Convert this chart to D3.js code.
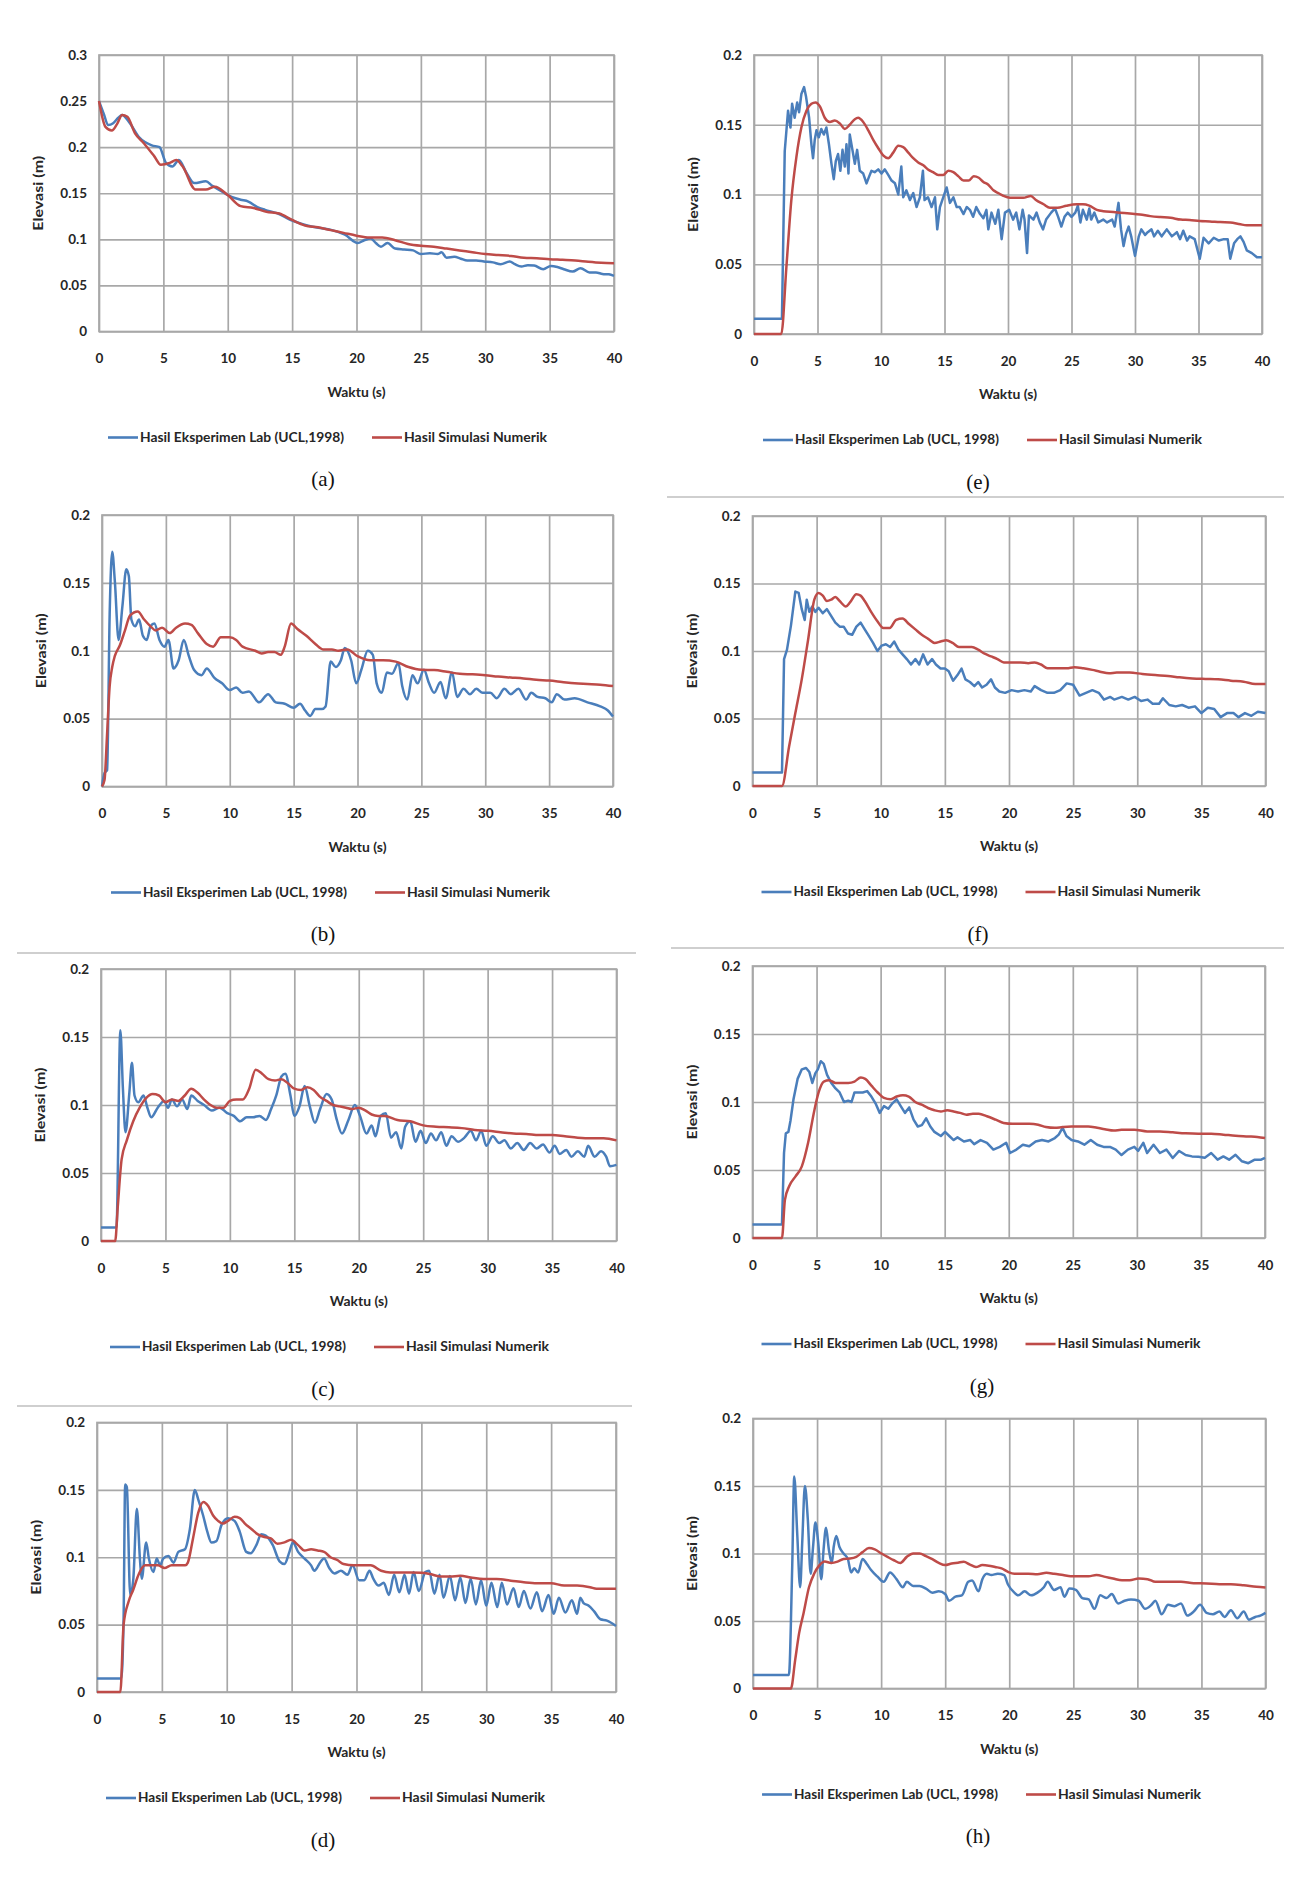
<!DOCTYPE html>
<html><head><meta charset="utf-8">
<script src="https://cdn.jsdelivr.net/npm/d3@7"></script>
<style>body{margin:0;background:#fff}svg{display:block}</style>
</head><body>
<svg id="fig" width="1311" height="1888"></svg>
<script>
// ---------- data ----------
const xTicks=[0,5,10,15,20,25,30,35,40];
const yTicksA=[0,0.05,0.1,0.15,0.2,0.25,0.3];
const yTicks=[0,0.05,0.1,0.15,0.2];
const expName="Hasil Eksperimen Lab (UCL, 1998)";
const expNameA="Hasil Eksperimen Lab (UCL,1998)";
const simName="Hasil Simulasi Numerik";
const xTitle="Waktu (s)";
const yTitle="Elevasi (m)";
const panelLabels=["(a)","(b)","(c)","(d)","(e)","(f)","(g)","(h)"];

const expA=[[0,0.25],[0.4,0.235],[0.7,0.224],[1.1,0.226],[1.5,0.232],[1.8,0.235],[2.3,0.228],[3.1,0.211],[4.1,0.202],[4.7,0.2],[5.2,0.183],[5.7,0.179],[6.2,0.186],[6.8,0.172],[7.4,0.161],[8.3,0.163],[8.8,0.158],[9.3,0.154],[10.3,0.146],[11.0,0.143],[11.6,0.141],[12.3,0.135],[12.9,0.132],[13.9,0.128],[14.9,0.121],[15.7,0.117],[16.5,0.114],[17.3,0.112],[18.1,0.11],[19.1,0.105],[20.1,0.096],[20.6,0.099],[21.1,0.101],[21.5,0.096],[21.9,0.092],[22.4,0.096],[23,0.09],[23.7,0.089],[24.4,0.088],[25,0.084],[25.7,0.085],[26.3,0.084],[26.6,0.086],[27,0.08],[27.6,0.081],[28.1,0.079],[28.6,0.077],[29.3,0.077],[29.9,0.076],[30.6,0.075],[31.2,0.073],[31.9,0.076],[32.3,0.073],[32.8,0.0705],[33.3,0.072],[33.8,0.0716],[34.5,0.0676],[35.1,0.0712],[35.6,0.07],[36.1,0.0676],[36.8,0.065],[37.4,0.0687],[38.1,0.064],[38.6,0.064],[39.1,0.0625],[39.6,0.062],[40,0.0604]];
const simA=[[0,0.25],[0.5,0.222],[1,0.218],[1.4,0.225],[1.8,0.235],[2.2,0.233],[2.8,0.215],[3.5,0.204],[4.3,0.19],[4.8,0.181],[5.5,0.183],[6,0.186],[6.5,0.179],[7.5,0.154],[8.3,0.154],[9,0.157],[10,0.148],[11,0.136],[12,0.134],[13,0.13],[14,0.128],[15,0.121],[16,0.115],[17,0.113],[18,0.11],[19,0.107],[20,0.104],[21,0.102],[22,0.102],[23,0.099],[24,0.095],[25,0.093],[26,0.092],[27,0.09],[28,0.088],[29,0.086],[30,0.084],[31,0.083],[32,0.082],[33,0.08],[34,0.0795],[35,0.0785],[36,0.0778],[37,0.077],[38,0.0756],[39,0.0745],[40,0.074]];

const expB=[[0,0],[0.2,0.01],[0.4,0.012],[0.6,0.127],[0.8,0.173],[1.0,0.152],[1.3,0.108],[1.6,0.133],[1.9,0.16],[2.1,0.155],[2.3,0.123],[2.6,0.118],[2.9,0.123],[3.2,0.111],[3.5,0.108],[3.8,0.118],[4.1,0.12],[4.5,0.108],[4.9,0.103],[5.2,0.108],[5.6,0.087],[6,0.093],[6.4,0.108],[6.8,0.096],[7.2,0.086],[7.8,0.082],[8.2,0.087],[8.8,0.08],[9.4,0.076],[10,0.071],[10.5,0.073],[11,0.069],[11.5,0.07],[12.3,0.062],[13,0.068],[13.6,0.062],[14.3,0.061],[15,0.058],[15.5,0.061],[15.9,0.056],[16.3,0.052],[16.7,0.057],[17.2,0.057],[17.5,0.059],[17.9,0.092],[18.3,0.088],[18.7,0.093],[19.0,0.102],[19.5,0.093],[19.9,0.076],[20.3,0.086],[20.8,0.1],[21.2,0.097],[21.5,0.076],[21.9,0.069],[22.3,0.084],[22.7,0.083],[23.2,0.091],[23.5,0.074],[23.9,0.064],[24.3,0.082],[24.7,0.076],[25.2,0.086],[25.6,0.076],[26,0.069],[26.5,0.077],[26.9,0.065],[27.4,0.084],[27.8,0.066],[28.3,0.072],[28.8,0.068],[29.3,0.072],[29.8,0.069],[30.4,0.069],[30.9,0.065],[31.5,0.072],[32,0.068],[32.6,0.072],[33.2,0.064],[33.6,0.069],[34.1,0.066],[34.7,0.065],[35.2,0.062],[35.6,0.068],[36.2,0.064],[37,0.065],[38,0.062],[39,0.059],[39.6,0.056],[40,0.0515]];
const simB=[[0,0],[0.2,0.005],[0.4,0.039],[0.6,0.074],[0.8,0.088],[1,0.096],[1.4,0.104],[1.8,0.115],[2.2,0.126],[2.8,0.129],[3.3,0.123],[3.8,0.118],[4.2,0.115],[4.7,0.117],[5.3,0.113],[5.8,0.117],[6.5,0.12],[7,0.119],[7.5,0.113],[8.2,0.105],[8.7,0.103],[9.3,0.11],[10,0.11],[10.5,0.108],[11,0.103],[12,0.1],[12.5,0.098],[13,0.099],[13.5,0.099],[14,0.097],[14.3,0.103],[14.8,0.12],[15.3,0.116],[16,0.111],[16.7,0.105],[17.3,0.101],[18,0.101],[18.5,0.1],[19.2,0.101],[20,0.096],[21,0.093],[22,0.093],[23,0.092],[24,0.088],[25,0.086],[26,0.0858],[27,0.0845],[28,0.083],[29,0.0826],[30,0.082],[31,0.081],[32,0.0803],[33,0.0796],[34,0.0786],[35,0.078],[36,0.077],[37,0.076],[38,0.0755],[39,0.075],[40,0.074]];

const expC=[[0,0.01],[1.2,0.01],[1.5,0.155],[1.7,0.112],[1.9,0.08],[2.2,0.109],[2.4,0.131],[2.6,0.107],[2.9,0.102],[3.3,0.107],[3.6,0.098],[3.9,0.091],[4.4,0.098],[4.9,0.103],[5.2,0.098],[5.5,0.104],[5.9,0.099],[6.3,0.104],[6.7,0.097],[7.0,0.107],[7.5,0.103],[8,0.1],[8.6,0.096],[9.2,0.098],[9.8,0.094],[10.3,0.092],[10.8,0.088],[11.3,0.091],[11.8,0.091],[12.3,0.092],[12.8,0.089],[13.2,0.097],[13.6,0.107],[14.0,0.121],[14.3,0.123],[14.7,0.107],[15.0,0.092],[15.4,0.099],[15.8,0.114],[16.2,0.099],[16.6,0.087],[17,0.097],[17.5,0.108],[17.9,0.104],[18.3,0.089],[18.7,0.079],[19.2,0.089],[19.7,0.1],[20.1,0.092],[20.6,0.079],[21,0.085],[21.3,0.077],[21.7,0.092],[22.1,0.094],[22.5,0.076],[22.9,0.08],[23.3,0.068],[23.6,0.084],[24,0.088],[24.4,0.073],[24.8,0.081],[25.2,0.072],[25.6,0.079],[26,0.074],[26.4,0.08],[26.8,0.07],[27.2,0.077],[27.7,0.073],[28.2,0.076],[28.7,0.081],[29.1,0.074],[29.5,0.081],[29.9,0.07],[30.4,0.077],[30.9,0.072],[31.3,0.074],[31.8,0.068],[32.3,0.072],[32.8,0.067],[33.3,0.072],[33.8,0.068],[34.3,0.071],[34.8,0.065],[35.2,0.07],[35.6,0.064],[36.1,0.067],[36.5,0.062],[37,0.066],[37.5,0.062],[37.8,0.07],[38.3,0.062],[38.8,0.066],[39.2,0.062],[39.5,0.055],[40,0.056]];
const simC=[[0,0],[1.1,0],[1.3,0.025],[1.6,0.06],[2,0.074],[2.5,0.088],[3,0.098],[3.5,0.105],[4,0.108],[4.5,0.107],[5,0.102],[5.5,0.104],[6,0.103],[6.5,0.107],[7,0.112],[7.5,0.109],[8,0.104],[8.5,0.1],[9,0.098],[9.5,0.098],[10,0.103],[10.5,0.104],[11,0.104],[11.5,0.112],[12,0.126],[12.5,0.123],[13,0.119],[13.5,0.118],[14,0.119],[14.5,0.116],[15,0.112],[15.5,0.111],[16,0.113],[16.5,0.111],[17,0.106],[17.5,0.103],[18,0.1],[18.5,0.099],[19,0.098],[19.5,0.097],[20,0.098],[20.5,0.096],[21,0.093],[21.5,0.092],[22,0.092],[23,0.089],[24,0.088],[25,0.085],[26,0.084],[27,0.0836],[28,0.083],[29,0.0816],[30,0.081],[31,0.08],[32,0.079],[33,0.0787],[34,0.078],[35,0.078],[36,0.077],[37,0.076],[38,0.0755],[39,0.0755],[40,0.074]];

const expD=[[0,0.01],[1.87,0.01],[2.05,0.055],[2.17,0.154],[2.3,0.152],[2.56,0.072],[2.8,0.084],[3.07,0.136],[3.32,0.097],[3.45,0.084],[3.79,0.111],[4.0,0.099],[4.35,0.089],[4.6,0.099],[4.86,0.094],[5.1,0.099],[5.5,0.101],[5.9,0.096],[6.27,0.104],[6.78,0.106],[7.16,0.121],[7.54,0.15],[7.8,0.143],[8.18,0.131],[8.5,0.119],[8.82,0.111],[9.2,0.112],[9.6,0.124],[10.1,0.129],[10.6,0.127],[11.0,0.119],[11.5,0.104],[11.84,0.103],[12.28,0.109],[12.66,0.117],[13.0,0.116],[13.55,0.109],[14.07,0.097],[14.45,0.095],[14.83,0.104],[15.1,0.111],[15.5,0.104],[16.0,0.099],[16.5,0.094],[16.75,0.09],[17.26,0.097],[17.5,0.099],[17.9,0.092],[18.3,0.088],[18.8,0.09],[19.3,0.087],[19.7,0.094],[20.2,0.083],[20.6,0.083],[21,0.09],[21.3,0.084],[21.7,0.079],[22.1,0.081],[22.5,0.072],[22.9,0.087],[23.3,0.074],[23.7,0.087],[24.05,0.073],[24.4,0.089],[24.8,0.075],[25.3,0.089],[25.6,0.09],[26,0.073],[26.4,0.087],[26.7,0.07],[27.2,0.086],[27.6,0.068],[28.0,0.085],[28.4,0.066],[28.8,0.084],[29.2,0.065],[29.6,0.083],[30,0.064],[30.4,0.081],[30.85,0.063],[31.2,0.081],[31.6,0.065],[32.1,0.077],[32.5,0.063],[32.9,0.075],[33.4,0.062],[33.9,0.074],[34.3,0.06],[34.8,0.072],[35.2,0.058],[35.6,0.07],[36.1,0.059],[36.6,0.068],[37,0.058],[37.25,0.07],[37.5,0.066],[37.9,0.064],[38.3,0.06],[38.8,0.054],[39.3,0.053],[40,0.049]];
const simD=[[0,0],[1.8,0],[2.05,0.05],[2.43,0.067],[2.8,0.076],[3.2,0.087],[3.7,0.094],[4.2,0.094],[4.7,0.094],[5.2,0.092],[5.75,0.094],[6.3,0.094],[6.8,0.094],[7.0,0.096],[7.4,0.114],[7.8,0.133],[8.2,0.141],[8.57,0.138],[8.95,0.131],[9.33,0.127],[9.7,0.125],[10.1,0.127],[10.6,0.13],[11,0.129],[11.4,0.125],[11.9,0.121],[12.4,0.117],[12.9,0.115],[13.4,0.114],[13.9,0.11],[14.45,0.111],[14.96,0.113],[15.5,0.109],[16,0.105],[16.5,0.106],[17,0.105],[17.5,0.104],[18,0.1],[18.5,0.098],[19,0.095],[19.8,0.094],[20.4,0.094],[21.1,0.094],[21.9,0.09],[22.6,0.0887],[23.4,0.0887],[24.2,0.0887],[25,0.0885],[25.7,0.0875],[26.5,0.0857],[27.2,0.0857],[28,0.0862],[28.8,0.085],[29.8,0.0838],[30.8,0.0838],[31.9,0.0826],[32.9,0.0814],[33.9,0.0807],[35,0.0807],[36,0.079],[37,0.079],[38,0.0778],[38.5,0.0766],[39.3,0.0766],[40,0.0766]];

const expE=[[0,0.011],[2.2,0.011],[2.42,0.131],[2.68,0.16],[2.87,0.148],[3.0,0.165],[3.2,0.155],[3.4,0.166],[3.55,0.159],[3.73,0.172],[3.94,0.177],[4.1,0.17],[4.34,0.155],[4.52,0.136],[4.65,0.126],[4.78,0.139],[4.92,0.146],[5.1,0.141],[5.3,0.147],[5.5,0.143],[5.7,0.148],[5.9,0.136],[6.1,0.122],[6.28,0.111],[6.44,0.124],[6.62,0.129],[6.8,0.117],[6.97,0.132],[7.15,0.12],[7.28,0.136],[7.44,0.115],[7.54,0.143],[7.75,0.132],[7.94,0.122],[8.12,0.132],[8.33,0.117],[8.6,0.115],[8.86,0.108],[9.07,0.113],[9.25,0.117],[9.5,0.116],[9.78,0.118],[10.04,0.115],[10.3,0.118],[10.57,0.114],[10.83,0.11],[11.1,0.108],[11.36,0.1],[11.6,0.12],[11.75,0.098],[12.0,0.103],[12.28,0.096],[12.54,0.101],[12.8,0.091],[13.06,0.098],[13.3,0.117],[13.43,0.096],[13.7,0.098],[13.98,0.091],[14.25,0.098],[14.43,0.075],[14.64,0.091],[14.9,0.098],[15.17,0.105],[15.43,0.094],[15.7,0.098],[15.96,0.091],[16.2,0.091],[16.5,0.086],[16.75,0.091],[17,0.089],[17.25,0.084],[17.5,0.091],[17.8,0.086],[18.06,0.083],[18.3,0.089],[18.45,0.075],[18.7,0.087],[19,0.079],[19.24,0.089],[19.5,0.068],[19.76,0.087],[20.1,0.089],[20.4,0.082],[20.65,0.087],[20.9,0.075],[21.15,0.089],[21.3,0.082],[21.5,0.058],[21.65,0.085],[22,0.082],[22.25,0.087],[22.5,0.08],[22.76,0.075],[23.0,0.082],[23.4,0.087],[23.7,0.09],[23.95,0.084],[24.2,0.077],[24.45,0.084],[24.7,0.087],[25,0.084],[25.3,0.087],[25.5,0.092],[25.7,0.08],[25.9,0.089],[26.2,0.082],[26.4,0.09],[26.55,0.082],[26.8,0.087],[27.1,0.08],[27.5,0.082],[27.8,0.08],[28.2,0.082],[28.4,0.077],[28.7,0.094],[28.9,0.075],[29.1,0.063],[29.3,0.072],[29.5,0.077],[29.7,0.07],[30,0.056],[30.3,0.07],[30.5,0.075],[30.8,0.071],[31,0.073],[31.3,0.075],[31.5,0.07],[31.8,0.074],[32.1,0.07],[32.5,0.075],[32.9,0.07],[33.3,0.073],[33.55,0.068],[33.8,0.074],[34.1,0.067],[34.3,0.07],[34.7,0.068],[35.1,0.054],[35.4,0.069],[35.8,0.065],[36.2,0.069],[36.6,0.067],[37.0,0.068],[37.3,0.068],[37.5,0.054],[37.8,0.065],[38.05,0.068],[38.3,0.07],[38.55,0.066],[38.8,0.06],[39.2,0.058],[39.6,0.055],[40,0.055]];
const simE=[[0,0],[2.15,0],[2.55,0.048],[2.94,0.096],[3.34,0.127],[3.73,0.148],[4.13,0.16],[4.52,0.165],[4.84,0.166],[5.2,0.163],[5.57,0.155],[5.97,0.152],[6.36,0.153],[6.75,0.151],[7.15,0.147],[7.54,0.15],[7.94,0.154],[8.2,0.155],[8.6,0.152],[9,0.146],[9.4,0.139],[9.8,0.133],[10.17,0.128],[10.57,0.126],[10.96,0.13],[11.36,0.135],[11.75,0.134],[12.15,0.13],[12.54,0.126],[12.93,0.123],[13.33,0.121],[13.7,0.118],[14.1,0.116],[14.5,0.114],[14.9,0.114],[15.3,0.117],[15.7,0.116],[16.1,0.113],[16.5,0.11],[16.9,0.11],[17.3,0.113],[17.7,0.112],[18.06,0.109],[18.45,0.107],[18.85,0.103],[19.24,0.101],[19.64,0.099],[20.16,0.0976],[21.2,0.0976],[21.8,0.099],[22.2,0.096],[22.8,0.093],[23.3,0.0905],[23.9,0.0905],[24.6,0.092],[25.4,0.093],[25.9,0.093],[26.4,0.092],[27,0.089],[27.5,0.088],[28.3,0.0874],[28.8,0.087],[29.6,0.0864],[30.4,0.0857],[31.2,0.0845],[32,0.0838],[32.8,0.0833],[33.6,0.082],[34.3,0.0817],[35.1,0.081],[35.9,0.0807],[36.7,0.0802],[37.5,0.08],[38.3,0.0786],[38.8,0.078],[39.6,0.078],[40,0.078]];

const expF=[[0,0.01],[2.3,0.01],[2.46,0.094],[2.69,0.101],[3.0,0.119],[3.34,0.144],[3.6,0.143],[3.84,0.131],[4.07,0.123],[4.23,0.138],[4.43,0.129],[4.66,0.133],[4.9,0.129],[5.15,0.132],[5.48,0.128],[5.8,0.131],[6.13,0.126],[6.46,0.121],[6.8,0.118],[7.11,0.118],[7.44,0.113],[7.77,0.112],[8.1,0.118],[8.43,0.121],[8.75,0.116],[9.08,0.111],[9.4,0.106],[9.74,0.1],[10.07,0.104],[10.4,0.105],[10.73,0.103],[11.05,0.107],[11.38,0.101],[11.7,0.0975],[12.03,0.094],[12.36,0.09],[12.7,0.094],[13.0,0.09],[13.3,0.0975],[13.65,0.09],[14,0.094],[14.3,0.09],[14.66,0.087],[15.0,0.087],[15.3,0.085],[15.64,0.078],[15.97,0.082],[16.3,0.087],[16.6,0.079],[16.95,0.077],[17.3,0.074],[17.6,0.077],[17.9,0.073],[18.25,0.075],[18.6,0.079],[18.9,0.073],[19.25,0.07],[19.7,0.069],[20.2,0.071],[20.7,0.07],[21.2,0.071],[21.7,0.07],[22,0.074],[22.5,0.071],[23,0.069],[23.5,0.069],[24,0.071],[24.5,0.076],[25,0.075],[25.5,0.067],[26,0.069],[26.5,0.071],[27,0.069],[27.4,0.064],[27.9,0.066],[28.2,0.064],[28.8,0.066],[29.3,0.064],[29.8,0.066],[30.3,0.063],[30.8,0.064],[31.2,0.061],[31.7,0.061],[32,0.065],[32.5,0.06],[33,0.059],[33.5,0.06],[34,0.058],[34.5,0.059],[35,0.054],[35.5,0.058],[36,0.057],[36.5,0.051],[37,0.054],[37.5,0.054],[37.9,0.051],[38.4,0.054],[38.9,0.052],[39.4,0.055],[40,0.054]];
const simF=[[0,0],[2.3,0],[2.85,0.029],[3.34,0.054],[3.84,0.079],[4.33,0.108],[4.82,0.138],[5.15,0.143],[5.48,0.141],[5.8,0.137],[6.13,0.138],[6.46,0.14],[6.8,0.137],[7.28,0.133],[7.6,0.136],[8.1,0.142],[8.43,0.141],[8.75,0.137],[9.25,0.129],[9.74,0.122],[10.2,0.117],[10.7,0.117],[11.2,0.123],[11.7,0.124],[12.2,0.12],[12.7,0.116],[13.2,0.112],[13.7,0.109],[14.2,0.106],[14.66,0.107],[15.1,0.108],[15.6,0.106],[16.1,0.103],[16.6,0.103],[17.1,0.103],[17.6,0.101],[18.1,0.098],[18.6,0.096],[19.1,0.094],[19.6,0.0915],[20.3,0.0915],[20.9,0.0915],[21.5,0.091],[22,0.0915],[22.5,0.09],[23,0.0872],[23.5,0.0872],[24.5,0.0872],[25.1,0.088],[25.8,0.0872],[26.5,0.086],[27.1,0.0847],[27.8,0.0835],[28.4,0.084],[29.4,0.084],[30.4,0.083],[31.4,0.0822],[32.4,0.0815],[33.3,0.0805],[34.3,0.0797],[35.3,0.0793],[36.3,0.079],[37.3,0.078],[38.3,0.0773],[39.2,0.0756],[40,0.0756]];

const expG=[[0,0.01],[2.3,0.01],[2.46,0.0625],[2.6,0.077],[2.8,0.078],[2.96,0.086],[3.2,0.102],[3.52,0.117],[3.85,0.124],[4.18,0.125],[4.44,0.122],[4.67,0.114],[4.9,0.121],[5.1,0.124],[5.33,0.13],[5.56,0.128],[5.82,0.12],[6.15,0.114],[6.48,0.11],[6.8,0.107],[7.14,0.1],[7.47,0.101],[7.73,0.1],[7.96,0.107],[8.3,0.107],[8.6,0.107],[8.95,0.108],[9.28,0.104],[9.6,0.099],[9.93,0.092],[10.26,0.097],[10.6,0.095],[10.92,0.099],[11.25,0.102],[11.57,0.097],[11.9,0.092],[12.23,0.096],[12.57,0.087],[12.9,0.082],[13.22,0.083],[13.55,0.088],[13.88,0.082],[14.2,0.078],[14.7,0.075],[15.03,0.078],[15.36,0.075],[15.7,0.072],[16.0,0.074],[16.5,0.071],[17.0,0.072],[17.3,0.069],[17.8,0.072],[18.3,0.07],[18.8,0.065],[19.3,0.067],[19.8,0.07],[20.1,0.0625],[20.6,0.065],[21.1,0.0686],[21.6,0.0674],[22.1,0.071],[22.6,0.072],[23.1,0.071],[23.6,0.0735],[23.9,0.076],[24.2,0.081],[24.5,0.075],[24.9,0.072],[25.4,0.071],[25.9,0.0686],[26.4,0.072],[26.9,0.0686],[27.4,0.067],[27.9,0.067],[28.35,0.065],[28.8,0.061],[29.3,0.065],[29.8,0.067],[30.1,0.064],[30.5,0.07],[30.8,0.0625],[31.3,0.0686],[31.8,0.0625],[32.3,0.065],[32.8,0.0588],[33.3,0.064],[33.8,0.061],[34.3,0.06],[34.8,0.0598],[35.3,0.059],[35.8,0.0625],[36.3,0.0576],[36.75,0.06],[37.2,0.0576],[37.7,0.0612],[38.2,0.0564],[38.7,0.055],[39.2,0.0576],[39.7,0.0576],[40,0.059]];
const simG=[[0,0],[2.3,0],[2.53,0.028],[2.86,0.038],[3.36,0.0453],[3.85,0.0527],[4.34,0.07],[4.83,0.094],[5.16,0.107],[5.56,0.115],[6,0.116],[6.48,0.114],[6.98,0.114],[7.47,0.114],[7.96,0.115],[8.45,0.118],[8.8,0.117],[9.28,0.112],[9.77,0.107],[10.26,0.103],[10.76,0.102],[11.25,0.104],[11.74,0.105],[12.2,0.104],[12.7,0.1],[13.2,0.098],[13.7,0.0956],[14.2,0.0939],[14.7,0.093],[15.2,0.0939],[15.7,0.093],[16.2,0.092],[16.7,0.0907],[17.2,0.0914],[17.66,0.0914],[18.3,0.0895],[18.98,0.087],[19.6,0.0846],[20.3,0.084],[21,0.084],[21.6,0.084],[22.3,0.0833],[22.9,0.0816],[23.6,0.081],[24.2,0.0816],[24.9,0.082],[25.5,0.082],[26.2,0.082],[26.9,0.081],[27.5,0.08],[28.2,0.079],[28.8,0.0796],[29.8,0.0796],[30.8,0.0784],[31.8,0.0784],[32.8,0.0777],[33.8,0.077],[34.8,0.0767],[35.8,0.0767],[36.75,0.076],[37.7,0.0752],[38.7,0.0747],[39.4,0.0743],[40,0.0735]];

const expH=[[0,0.01],[2.8,0.01],[3.06,0.09],[3.22,0.157],[3.45,0.115],[3.68,0.075],[3.85,0.11],[4.05,0.15],[4.28,0.125],[4.5,0.085],[4.68,0.104],[4.87,0.123],[5.1,0.107],[5.33,0.081],[5.5,0.102],[5.7,0.119],[5.92,0.103],[6.15,0.093],[6.3,0.105],[6.5,0.113],[6.74,0.105],[7.07,0.1],[7.4,0.096],[7.66,0.086],[7.9,0.089],[8.2,0.086],[8.55,0.096],[8.9,0.092],[9.2,0.088],[9.7,0.083],[10.2,0.079],[10.7,0.086],[11.2,0.081],[11.7,0.075],[12.0,0.079],[12.5,0.076],[13.0,0.076],[13.5,0.074],[14,0.071],[14.5,0.072],[15,0.07],[15.3,0.065],[15.8,0.068],[16.3,0.069],[16.8,0.079],[17.1,0.08],[17.6,0.072],[17.9,0.081],[18.25,0.085],[18.6,0.084],[19.1,0.085],[19.6,0.084],[19.9,0.077],[20.4,0.071],[20.7,0.069],[21.2,0.072],[21.7,0.069],[22.2,0.071],[22.7,0.075],[23,0.079],[23.5,0.073],[24,0.075],[24.3,0.068],[24.7,0.074],[25.2,0.073],[25.7,0.067],[26.2,0.066],[26.65,0.059],[27.1,0.069],[27.6,0.067],[28,0.07],[28.5,0.063],[29,0.065],[29.5,0.066],[30.1,0.065],[30.6,0.059],[31.1,0.062],[31.4,0.065],[31.9,0.055],[32.4,0.062],[32.9,0.061],[33.4,0.063],[33.9,0.054],[34.4,0.057],[34.9,0.062],[35.4,0.056],[35.9,0.055],[36.4,0.057],[36.8,0.053],[37.3,0.058],[37.8,0.052],[38.3,0.057],[38.7,0.051],[39.2,0.053],[39.6,0.054],[40,0.056]];
const simH=[[0,0],[2.96,0],[3.29,0.021],[3.6,0.041],[3.95,0.056],[4.37,0.075],[4.77,0.085],[5.16,0.091],[5.6,0.094],[6.1,0.093],[6.6,0.094],[7.07,0.096],[7.57,0.0963],[8.06,0.0975],[8.55,0.101],[9.05,0.104],[9.5,0.103],[10.03,0.1],[10.5,0.0975],[11,0.095],[11.5,0.093],[12,0.0975],[12.5,0.1],[13,0.1],[13.5,0.098],[14,0.0958],[14.5,0.093],[15,0.0914],[15.5,0.0926],[16,0.0932],[16.45,0.0938],[16.9,0.092],[17.4,0.09],[17.9,0.0914],[18.4,0.091],[18.9,0.09],[19.4,0.089],[19.9,0.0864],[20.4,0.085],[21,0.085],[21.5,0.085],[22.2,0.0847],[22.9,0.0857],[23.5,0.085],[24.2,0.084],[24.8,0.0832],[25.5,0.0832],[26.2,0.0832],[26.8,0.084],[27.5,0.0827],[28.1,0.0815],[28.8,0.0802],[29.4,0.0802],[30.1,0.0815],[30.8,0.081],[31.4,0.079],[32.4,0.079],[33.4,0.079],[34.4,0.078],[35.4,0.0778],[36.4,0.0773],[37.3,0.0773],[38.3,0.0765],[39.3,0.0753],[40,0.0748]];

// ---------- panels (data references) ----------
const panels=[
  {key:"a",exp:expA,sim:simA,yMax:0.3,yT:yTicksA,expLabel:expNameA,smoothExp:true},
  {key:"b",exp:expB,sim:simB,yMax:0.2,yT:yTicks,expLabel:expName,smoothExp:true},
  {key:"c",exp:expC,sim:simC,yMax:0.2,yT:yTicks,expLabel:expName,smoothExp:true},
  {key:"d",exp:expD,sim:simD,yMax:0.2,yT:yTicks,expLabel:expName,smoothExp:true},
  {key:"e",exp:expE,sim:simE,yMax:0.2,yT:yTicks,expLabel:expName,smoothExp:false},
  {key:"f",exp:expF,sim:simF,yMax:0.2,yT:yTicks,expLabel:expName,smoothExp:false},
  {key:"g",exp:expG,sim:simG,yMax:0.2,yT:yTicks,expLabel:expName,smoothExp:false},
  {key:"h",exp:expH,sim:simH,yMax:0.2,yT:yTicks,expLabel:expName,smoothExp:true}
];

// ---------- layout (pixel geometry) ----------
const layout={
  a:{l:99,r:614,t:55,b:331.5,lx:323},
  b:{l:102,r:613,t:515,b:786.5,lx:323},
  c:{l:101,r:616.5,t:969,b:1241,lx:323},
  d:{l:97,r:616,t:1422.5,b:1692,lx:323},
  e:{l:754,r:1262,t:55,b:334,lx:978},
  f:{l:752.5,r:1265.5,t:516,b:786,lx:978},
  g:{l:752.5,r:1265,t:966,b:1238,lx:982},
  h:{l:753,r:1265.5,t:1418.5,b:1688.5,lx:978}
};
const separators=[[667,1284,497],[17,636,953],[671,1284,948],[17,632,1406]];

const BLUE="#4a7ebb", RED="#be4b48", GRID="#a8a8a8", TXT="#262626";
const FONT="Lato, 'Open Sans', sans-serif";
const svg=d3.select("#fig");
svg.append("rect").attr("width",1311).attr("height",1888).attr("fill","#fff");

separators.forEach(s=>{
  svg.append("line").attr("x1",s[0]).attr("x2",s[1]).attr("y1",s[2]).attr("y2",s[2])
    .attr("stroke","#cfcfcf").attr("stroke-width",2);
});

panels.forEach((p,i)=>{
  const L=layout[p.key];
  const x=d3.scaleLinear().domain([0,40]).range([L.l,L.r]);
  const y=d3.scaleLinear().domain([0,p.yMax]).range([L.b,L.t]);
  const g=svg.append("g");

  const ya=g.append("g").attr("transform",`translate(${L.l},0)`)
    .call(d3.axisLeft(y).tickValues(p.yT).tickSize(-(L.r-L.l)).tickPadding(12).tickFormat(d=>String(d)));
  ya.select(".domain").remove();
  ya.selectAll("line").attr("stroke",GRID).attr("stroke-width",1.7);
  ya.selectAll("text").attr("font-family",FONT).attr("font-weight",700).attr("font-size",13.5).attr("fill",TXT);

  const xa=g.append("g").attr("transform",`translate(0,${L.b})`)
    .call(d3.axisBottom(x).tickValues(xTicks).tickSize(-(L.b-L.t)).tickPadding(22).tickFormat(d=>String(d)));
  xa.select(".domain").remove();
  xa.selectAll("line").attr("stroke",GRID).attr("stroke-width",1.7);
  xa.selectAll("text").attr("font-family",FONT).attr("font-weight",700).attr("font-size",13.5).attr("fill",TXT);

  g.append("rect").attr("x",L.l).attr("y",L.t).attr("width",L.r-L.l).attr("height",L.b-L.t)
    .attr("fill","none").attr("stroke",GRID).attr("stroke-width",1.7);

  const lineLin=d3.line().x(d=>x(d[0])).y(d=>y(d[1]));
  const lineSm=d3.line().x(d=>x(d[0])).y(d=>y(d[1])).curve(d3.curveMonotoneX);
  g.append("path").datum(p.exp).attr("d",p.smoothExp?lineSm:lineLin).attr("fill","none").attr("stroke",BLUE)
    .attr("stroke-width",2.5).attr("stroke-linejoin","round");
  g.append("path").datum(p.sim).attr("d",lineSm).attr("fill","none").attr("stroke",RED)
    .attr("stroke-width",2.5).attr("stroke-linejoin","round");

  // axis titles
  g.append("text").attr("x",(L.l+L.r)/2).attr("y",L.b+60.5).attr("dy","0.35em")
    .attr("text-anchor","middle").attr("font-family",FONT).attr("font-weight",700)
    .attr("font-size",13).attr("fill",TXT).attr("textLength",58).attr("lengthAdjust","spacingAndGlyphs").text(xTitle);
  g.append("text").attr("transform",`translate(${L.l-60},${(L.t+L.b)/2}) rotate(-90)`).attr("dy","0.35em")
    .attr("text-anchor","middle").attr("font-family",FONT).attr("font-weight",700)
    .attr("font-size",12.5).attr("fill",TXT).attr("textLength",75).attr("lengthAdjust","spacingAndGlyphs").text(yTitle);

  // legend
  const ly=L.b+106;
  g.append("line").attr("x1",L.l+9).attr("x2",L.l+39).attr("y1",ly).attr("y2",ly).attr("stroke",BLUE).attr("stroke-width",2.6);
  g.append("text").attr("x",L.l+41).attr("y",ly).attr("dy","0.35em").attr("font-family",FONT).attr("font-weight",700)
    .attr("font-size",12.5).attr("fill",TXT).attr("textLength",204).attr("lengthAdjust","spacingAndGlyphs").text(p.expLabel);
  g.append("line").attr("x1",L.l+273).attr("x2",L.l+303).attr("y1",ly).attr("y2",ly).attr("stroke",RED).attr("stroke-width",2.6);
  g.append("text").attr("x",L.l+305).attr("y",ly).attr("dy","0.35em").attr("font-family",FONT).attr("font-weight",700)
    .attr("font-size",12.5).attr("fill",TXT).attr("textLength",143).attr("lengthAdjust","spacingAndGlyphs").text(simName);

  // panel letter
  g.append("text").attr("x",L.lx).attr("y",L.b+147.5).attr("dy","0.35em").attr("text-anchor","middle")
    .attr("font-family","'Liberation Serif', 'Times New Roman', serif").attr("font-size",21).attr("fill","#111")
    .text(panelLabels[i]);
});
</script>
</body></html>
